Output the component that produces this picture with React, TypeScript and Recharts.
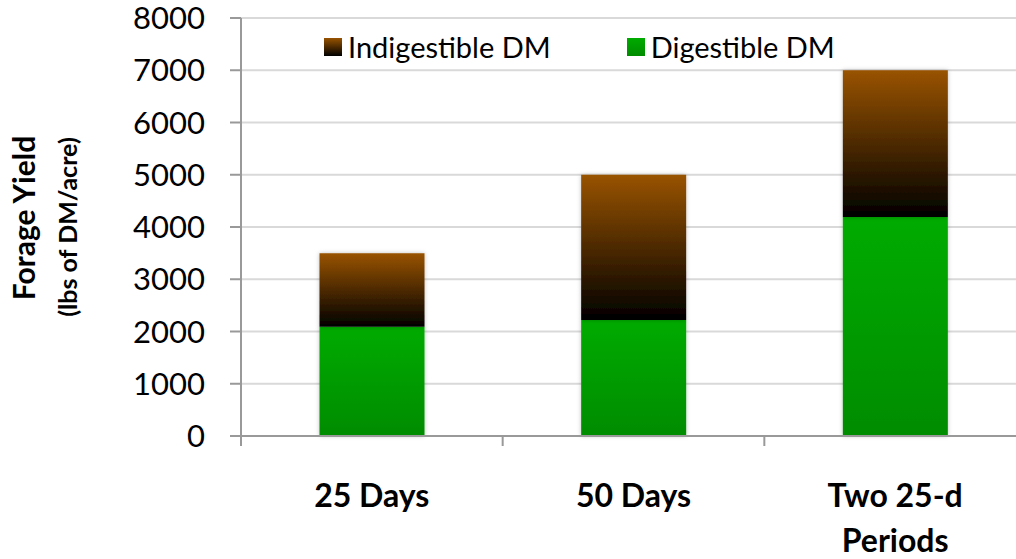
import React from "react";
import { BarChart, Bar, XAxis, YAxis, CartesianGrid, Legend } from "recharts";

const categories = ["25 Days", "50 Days", "Two 25-d\nPeriods"];
const digestible = [2090, 2220, 4190];
const indigestible = [1410, 2780, 2810];
const yTicks = [0, 1000, 2000, 3000, 4000, 5000, 6000, 7000, 8000];

const data = categories.map((name, i) => ({
  name,
  digestible: digestible[i],
  indigestible: indigestible[i],
}));

const CHART_W = 1026;
const CHART_H = 559;
const Y_W = 241;
const FONT = "Lato, 'Open Sans', sans-serif";
const band = (CHART_W - Y_W) / categories.length;

const legendItems = [
  { label: "Indigestible DM", bg: "linear-gradient(#995300, #000000)" },
  { label: "Digestible DM", bg: "linear-gradient(#00ab00, #008c00)" },
];

function XTick(props: any) {
  const { x, y, payload } = props;
  const lines = String(payload.value).split("\n");
  return (
    <g>
      <line x1={x - band / 2} x2={x - band / 2} y1={y} y2={y + 10} stroke="#999" strokeWidth={2} />
      {lines.map((l, i) => (
        <text
          key={i}
          x={x}
          y={y + 71 + i * 45}
          textAnchor="middle"
          fontFamily={FONT}
          fontWeight={700}
          fontSize={32}
          fill="#000"
        >
          {l}
        </text>
      ))}
    </g>
  );
}

function LegendBox() {
  return (
    <div style={{ display: "flex", fontFamily: FONT, fontSize: 29, color: "#000", lineHeight: "36px" }}>
      {legendItems.map((it, i) => (
        <div key={i} style={{ display: "flex", alignItems: "center", marginRight: i === 0 ? 76 : 0 }}>
          <span style={{ width: 18, height: 18, background: it.bg, marginRight: 6, display: "inline-block" }} />
          <span>{it.label}</span>
        </div>
      ))}
    </div>
  );
}

function YTitle() {
  return (
    <g fontFamily={FONT} fontWeight={700} fill="#000">
      <text x={0} y={0} transform="translate(35,218) rotate(-90)" textAnchor="middle" fontSize={30}>
        Forage Yield
      </text>
      <text x={0} y={0} transform="translate(77,227) rotate(-90)" textAnchor="middle" fontSize={25}>
        (lbs of DM/acre)
      </text>
    </g>
  );
}

export default function App() {
  return (
    <div style={{ position: "fixed", left: 0, top: 0, width: 1016, height: 559, overflow: "hidden", background: "#fff" }}>
      <BarChart
        width={CHART_W}
        height={CHART_H}
        data={data}
        margin={{ top: 18, right: 0, bottom: 0, left: 0 }}
        barCategoryGap="30%"
      >
        <defs>
          <linearGradient id="gGreen" x1="0" y1="0" x2="0" y2="1">
            <stop offset="0%" stopColor="#00ab00" />
            <stop offset="100%" stopColor="#008c00" />
          </linearGradient>
          <linearGradient id="gBrown" x1="0" y1="0" x2="0" y2="1">
            <stop offset="0%" stopColor="#995300" />
            <stop offset="100%" stopColor="#000000" />
          </linearGradient>
          <filter id="shadow" x="-10%" y="-10%" width="120%" height="120%">
            <feDropShadow dx="0" dy="0" stdDeviation="2" floodColor="#000" floodOpacity="0.25" />
          </filter>
        </defs>
        <CartesianGrid vertical={false} stroke="#d9d9d9" strokeWidth={2} />
        <XAxis
          dataKey="name"
          height={123}
          axisLine={{ stroke: "#999", strokeWidth: 2 }}
          tickLine={false}
          tickSize={0}
          tickMargin={0}
          tick={<XTick />}
          interval={0}
        />
        <YAxis
          width={Y_W}
          domain={[0, 8000]}
          ticks={yTicks}
          interval={0}
          axisLine={{ stroke: "#999", strokeWidth: 2 }}
          tickLine={{ stroke: "#999", strokeWidth: 2 }}
          tickSize={11}
          tickMargin={25}
          tick={{ fontFamily: FONT, fontSize: 31, fill: "#000" }}
          label={{ content: () => <YTitle /> }}
        />
        <Legend
          layout="horizontal"
          verticalAlign="middle"
          align="center"
          wrapperStyle={{ top: 29, left: 324, width: "auto" }}
          content={() => <LegendBox />}
        />
        <Bar dataKey="digestible" stackId="a" fill="url(#gGreen)" filter="url(#shadow)" isAnimationActive={false} />
        <Bar dataKey="indigestible" stackId="a" fill="url(#gBrown)" filter="url(#shadow)" isAnimationActive={false} />
      </BarChart>
    </div>
  );
}
